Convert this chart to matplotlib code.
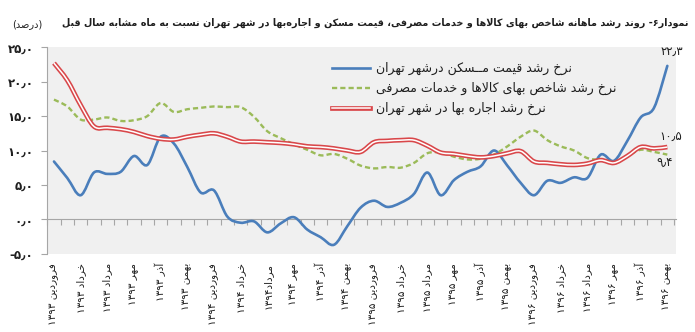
import re

import matplotlib

matplotlib.use("Agg")
import matplotlib.pyplot as plt
import numpy as np
from matplotlib.lines import Line2D
from matplotlib.patches import PathPatch
from matplotlib.path import Path

# Monthly series, Farvardin 1393 .. Bahman 1396 (percent, y/y)
housing_growth = [
    8.4, 6.0, 3.5, 6.8, 6.6, 6.9, 9.2, 7.9, 12.0, 11.0, 7.6, 3.9,
    4.2, 0.4, -0.5, -0.3, -1.9, -0.6, 0.3, -1.5, -2.6, -3.7, -1.0, 1.7,
    2.7, 1.8, 2.4, 3.7, 6.8, 3.5, 5.7, 6.9, 7.7, 10.0, 7.8, 5.3,
    3.5, 5.6, 5.3, 6.1, 6.0, 9.4, 8.5, 11.4, 14.8, 16.2, 22.3,
]
cpi_growth = [
    17.4, 16.4, 14.5, 14.5, 14.8, 14.3, 14.4, 15.0, 16.9, 15.6, 16.0, 16.2,
    16.4, 16.3, 16.3, 14.9, 12.8, 11.8, 10.9, 10.1, 9.3, 9.5, 8.8, 7.8,
    7.4, 7.6, 7.5, 8.2, 9.6, 9.7, 9.1, 8.7, 8.8, 9.4, 10.6, 12.0,
    12.9, 11.5, 10.6, 10.0, 8.9, 8.6, 8.3, 9.2, 10.1, 9.8, 9.4,
]
rent_growth = [
    22.7, 20.2, 16.6, 13.5, 13.3, 13.1, 12.7, 12.1, 11.7, 11.6, 12.0, 12.3,
    12.5, 12.0, 11.3, 11.3, 11.2, 11.1, 10.9, 10.6, 10.5, 10.3, 10.0, 9.8,
    11.2, 11.4, 11.5, 11.5, 10.7, 9.7, 9.5, 9.2, 9.0, 9.2, 9.6, 9.9,
    8.4, 8.2, 8.0, 7.9, 8.1, 8.6, 8.2, 9.2, 10.5, 10.3, 10.5,
]
month_labels = [
    "فروردین ۱۳۹۳", "خرداد ۱۳۹۳", "مرداد ۱۳۹۳", "مهر ۱۳۹۳", "آذر ۱۳۹۳", "بهمن ۱۳۹۳",
    "فروردین ۱۳۹۴", "خرداد ۱۳۹۴", "مرداد۱۳۹۴", "مهر ۱۳۹۴", "آذر ۱۳۹۴", "بهمن ۱۳۹۴",
    "فروردین ۱۳۹۵", "خرداد ۱۳۹۵", "مرداد ۱۳۹۵", "مهر ۱۳۹۵", "آذر ۱۳۹۵", "بهمن ۱۳۹۵",
    "فروردین ۱۳۹۶", "خرداد ۱۳۹۶", "مرداد ۱۳۹۶", "مهر ۱۳۹۶", "آذر ۱۳۹۶", "بهمن ۱۳۹۶",
]
series_names = [
    "نرخ رشد قیمت مــسکن درشهر تهران",
    "نرخ رشد شاخص بهای کالاها و خدمات مصرفی",
    "نرخ رشد اجاره بها در شهر تهران",
]
y_ticks = [-5, 0, 5, 10, 15, 20, 25]
title = ("نمودار۶- روند رشد ماهانه شاخص بهای کالاها و خدمات مصرفی، "
         "قیمت مسکن و اجاره\u200cبها در شهر تهران نسبت به ماه مشابه سال قبل")
unit = "(درصد)"

BLUE = "#4a7ebb"
GREEN = "#9bbb59"
RED = "#d9474a"
AXIS_GREY = "#a6a6a6"
TEXT = "#1f1f1f"

# --- minimal Persian shaping: contextual forms + right-to-left visual order ---
# forms: isolated, final, initial, medial
DUAL = {
    "ب": "\uFE8F\uFE90\uFE91\uFE92", "پ": "\uFB56\uFB57\uFB58\uFB59",
    "ت": "\uFE95\uFE96\uFE97\uFE98", "ث": "\uFE99\uFE9A\uFE9B\uFE9C",
    "ج": "\uFE9D\uFE9E\uFE9F\uFEA0", "چ": "\uFB7A\uFB7B\uFB7C\uFB7D",
    "ح": "\uFEA1\uFEA2\uFEA3\uFEA4", "خ": "\uFEA5\uFEA6\uFEA7\uFEA8",
    "س": "\uFEB1\uFEB2\uFEB3\uFEB4", "ش": "\uFEB5\uFEB6\uFEB7\uFEB8",
    "ص": "\uFEB9\uFEBA\uFEBB\uFEBC", "ض": "\uFEBD\uFEBE\uFEBF\uFEC0",
    "ط": "\uFEC1\uFEC2\uFEC3\uFEC4", "ظ": "\uFEC5\uFEC6\uFEC7\uFEC8",
    "ع": "\uFEC9\uFECA\uFECB\uFECC", "غ": "\uFECD\uFECE\uFECF\uFED0",
    "ف": "\uFED1\uFED2\uFED3\uFED4", "ق": "\uFED5\uFED6\uFED7\uFED8",
    "ک": "\uFB8E\uFB8F\uFB90\uFB91", "گ": "\uFB92\uFB93\uFB94\uFB95",
    "ل": "\uFEDD\uFEDE\uFEDF\uFEE0", "م": "\uFEE1\uFEE2\uFEE3\uFEE4",
    "ن": "\uFEE5\uFEE6\uFEE7\uFEE8", "ه": "\uFEE9\uFEEA\uFEEB\uFEEC",
    "ی": "\uFBFC\uFBFD\uFBFE\uFBFF", "ـ": "ــــ",
}
RIGHT = {
    "ا": "\uFE8D\uFE8E", "آ": "\uFE81\uFE82", "د": "\uFEA9\uFEAA",
    "ذ": "\uFEAB\uFEAC", "ر": "\uFEAD\uFEAE", "ز": "\uFEAF\uFEB0",
    "ژ": "\uFB8A\uFB8B", "و": "\uFEED\uFEEE",
}
LAM_ALEF = {"ا": "\uFEFB\uFEFC", "آ": "\uFEF5\uFEF6"}
MIRROR = {"(": ")", ")": "("}


def shape(text):
    out = []
    i = 0
    while i < len(text):
        ch = text[i]
        prev = text[i - 1] if i > 0 else ""
        nxt = text[i + 1] if i + 1 < len(text) else ""
        join_prev = prev in DUAL
        if ch == "ل" and nxt in LAM_ALEF:
            out.append(LAM_ALEF[nxt][1 if join_prev else 0])
            i += 2
            continue
        if ch in DUAL:
            join_next = nxt in DUAL or nxt in RIGHT
            out.append(DUAL[ch][(1 if join_prev else 0) + (2 if join_next else 0)])
        elif ch in RIGHT:
            out.append(RIGHT[ch][1 if join_prev else 0])
        elif ch != "\u200c":
            out.append(ch)
        i += 1
    return "".join(out)


def fa(text):
    runs = re.findall(r"[۰-۹0-9][۰-۹0-9٫]*|.", shape(text))
    return "".join(MIRROR.get(r, r) for r in reversed(runs))


def fa_number(value, fmt="{:.1f}"):
    return fmt.format(value).translate(str.maketrans("0123456789.", "۰۱۲۳۴۵۶۷۸۹٫"))


def smooth_path(xs, ys):
    pts = np.column_stack([xs, ys]).astype(float)
    ext = np.vstack([pts[0], pts, pts[-1]])
    verts, codes = [pts[0]], [Path.MOVETO]
    for k in range(len(pts) - 1):
        p0, p1, p2, p3 = ext[k], ext[k + 1], ext[k + 2], ext[k + 3]
        verts += [p1 + (p2 - p0) / 6, p2 - (p3 - p1) / 6, p2]
        codes += [Path.CURVE4] * 3
    return Path(verts, codes)


plt.rcParams["font.family"] = ["DejaVu Sans"]

fig = plt.figure(figsize=(6.95, 3.32), dpi=100)
ax = fig.add_axes([47.3 / 695, 1 - 253.7 / 332, (676 - 47.3) / 695, 206.4 / 332])
ax.set_facecolor("#f0f0f0")

months = np.arange(len(housing_growth))
ax.set_xlim(-0.5, 46.65)
ax.set_ylim(-5, 25)

# series drawn in legend order, the rent band last so it sits on top
green_style = dict(color=GREEN, lw=1.7, linestyle=(0, (2.2, 1.3)))
ax.add_patch(PathPatch(smooth_path(months, housing_growth), fill=False, edgecolor=BLUE,
                       lw=1.9, joinstyle="round", capstyle="round", zorder=3))
ax.add_patch(PathPatch(smooth_path(months, cpi_growth), fill=False, edgecolor=GREEN,
                       lw=green_style["lw"], linestyle=green_style["linestyle"], zorder=4))
ax.add_patch(PathPatch(smooth_path(months, rent_growth), fill=False, edgecolor=RED,
                       lw=3.4, joinstyle="round", zorder=5))
ax.add_patch(PathPatch(smooth_path(months, rent_growth), fill=False, edgecolor="white",
                       lw=1.1, joinstyle="round", zorder=5))

# axes: left spine plus a zero line carrying the month ticks
for side in ("top", "right"):
    ax.spines[side].set_visible(False)
ax.spines["left"].set_color(AXIS_GREY)
ax.spines["bottom"].set_color(AXIS_GREY)
ax.spines["bottom"].set_position(("data", 0))
ax.set_xticks(np.arange(-0.5, 46.6, 1))
ax.set_xticklabels([])
ax.tick_params(axis="x", direction="out", length=4, color=AXIS_GREY, width=0.8)
ax.set_yticks(y_ticks)
ax.set_yticklabels([("-" if v < 0 else "") + fa_number(abs(v)) for v in y_ticks],
                   fontsize=8.5, fontweight="bold", color=TEXT)
ax.tick_params(axis="y", direction="out", length=4, color=AXIS_GREY, width=0.8, pad=6)

for i, label in zip(months[::2], month_labels):
    ax.text(i, -0.045, fa(label), transform=ax.get_xaxis_transform(), rotation=90,
            ha="center", va="top", fontsize=7.5, color=TEXT)

# end-of-series values
last = months[-1]
ax.annotate(fa_number(housing_growth[-1]), (last, housing_growth[-1]), xytext=(4, 14),
            textcoords="offset pixels", ha="center", va="center", fontsize=8.5, color=TEXT)
ax.annotate(fa_number(rent_growth[-1]), (last, rent_growth[-1]), xytext=(3, 10),
            textcoords="offset pixels", ha="center", va="center", fontsize=8.5, color=TEXT)
ax.annotate(fa_number(cpi_growth[-1]), (last, cpi_growth[-1]), xytext=(-3, -9),
            textcoords="offset pixels", ha="center", va="center", fontsize=8.5, color=TEXT)

handles = [
    Line2D([], [], color=BLUE, lw=1.9),
    Line2D([], [], **green_style),
    (Line2D([], [], color=RED, lw=3.4), Line2D([], [], color="white", lw=1.1)),
]
ax.legend(handles, [fa(name) for name in series_names], loc="upper left",
          bbox_to_anchor=(332 / 695, 1 - 62 / 332), bbox_transform=fig.transFigure,
          frameon=False, fontsize=9, handlelength=3.0, handletextpad=0.5,
          labelspacing=0.55, borderpad=0, borderaxespad=0, labelcolor=TEXT)

# title: bold caption fitted between the unit note and the right edge
title_text = fig.text(688 / 695, 1 - 23 / 332, fa(title), ha="right", va="center",
                      fontsize=9.5, fontweight="bold", color=TEXT)
fig.text(12 / 695, 1 - 24 / 332, fa(unit), ha="left", va="center", fontsize=7, color=TEXT)
renderer = fig.canvas.get_renderer()
width = title_text.get_window_extent(renderer).width
title_text.set_fontsize(9.5 * 636 / width)

fig.savefig("out.png", dpi=100)
